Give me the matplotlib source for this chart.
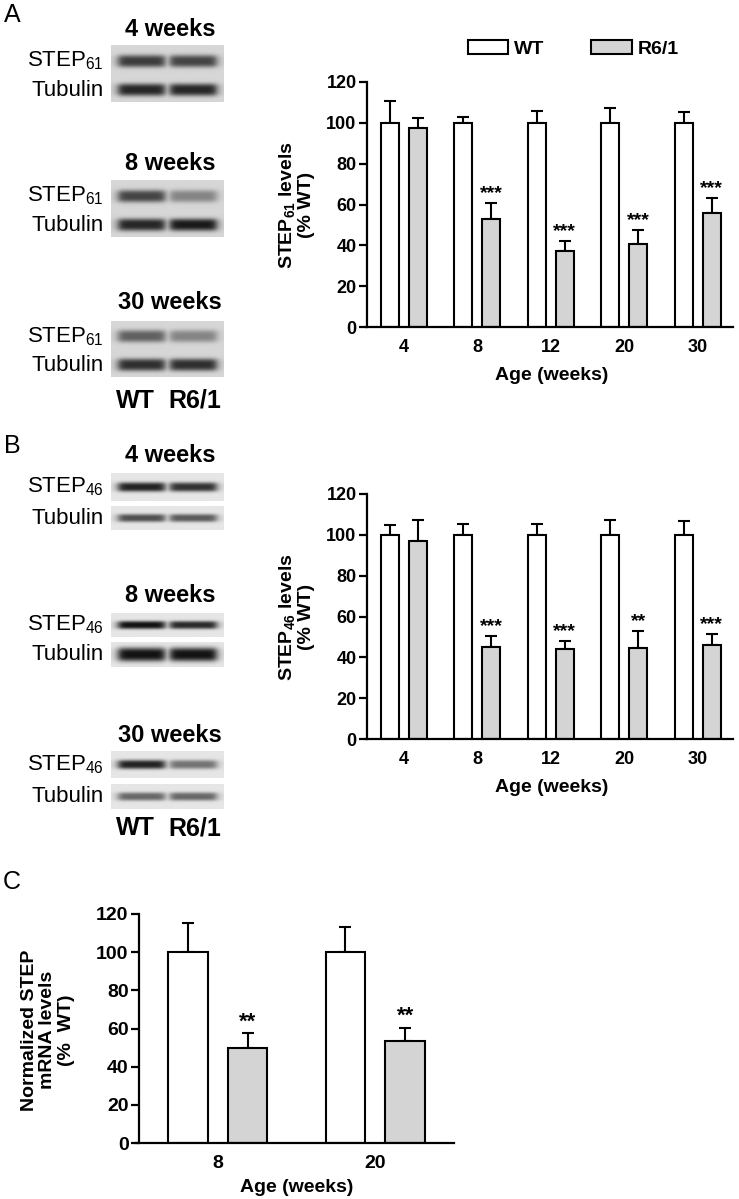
import matplotlib
matplotlib.use("Agg")
import matplotlib.pyplot as plt
import numpy as np

plt.rcParams['font.family'] = ['Liberation Sans', 'DejaVu Sans']
plt.rcParams['mathtext.fontset'] = 'custom'
plt.rcParams['mathtext.rm'] = 'Liberation Sans'
plt.rcParams['mathtext.bf'] = 'Liberation Sans:bold'
plt.rcParams['mathtext.default'] = 'regular'

# ---- bar chart data ----
ages_ab = ['4', '8', '12', '20', '30']

a_wt = [100, 100, 100, 100, 100]
a_wt_err = [10.5, 3, 6, 7.5, 5.5]
a_r6 = [97.5, 53, 37, 40.5, 56]
a_r6_err = [5, 7.5, 5, 7, 7]
a_stars = ['', '***', '***', '***', '***']

b_wt = [100, 100, 100, 100, 100]
b_wt_err = [5, 5.5, 5.5, 7.5, 7]
b_r6 = [97, 45, 44, 44.5, 46]
b_r6_err = [10.5, 5.5, 4, 8.5, 5.5]
b_stars = ['', '***', '***', '**', '***']

ages_c = ['8', '20']
c_wt = [100, 100]
c_wt_err = [15.5, 13]
c_r6 = [50, 53.5]
c_r6_err = [7.5, 7]
c_stars = ['**', '**']

# ---- blot band darkness (WT lane, R6/1 lane) ----
blot_weeks = ['4 weeks', '8 weeks', '30 weeks']
a_step_wt = [0.72, 0.68, 0.55]
a_step_r6 = [0.68, 0.38, 0.38]
a_tub_wt = [0.82, 0.82, 0.78]
a_tub_r6 = [0.82, 0.88, 0.78]
b_step_wt = [0.85, 0.92, 0.85]
b_step_r6 = [0.78, 0.82, 0.5]
b_tub_wt = [0.65, 0.92, 0.55]
b_tub_r6 = [0.6, 0.92, 0.55]

W, H = 739, 1199
fig = plt.figure(figsize=(W / 100, H / 100), dpi=100)


def px_axes(x0, y0, x1, y1):
    return fig.add_axes([x0 / W, 1 - y1 / H, (x1 - x0) / W, (y1 - y0) / H])


def ftext(x, y, s, **kw):
    fig.text(x / W, 1 - y / H, s, **kw)


def blot(y0, y1, bands, bg, sigma):
    # bands: list of (centre fraction, darkness WT, darkness R6/1)
    ax = px_axes(111, y0, 224, y1)
    ny, nx = 60, 120
    yy, xx = np.mgrid[0:1:ny * 1j, 0:1:nx * 1j]
    dark = np.zeros_like(yy)
    for yc, d_wt, d_r6 in bands:
        for xc, d in ((0.27, d_wt), (0.73, d_r6)):
            prof = np.exp(-np.abs((yy - yc) / sigma) ** 3) / (1 + ((xx - xc) / 0.21) ** 10)
            dark = np.maximum(dark, d * prof)
    img = bg * (1 - dark)
    ax.imshow(img, cmap='gray', vmin=0, vmax=1, aspect='auto', interpolation='bilinear')
    ax.axis('off')


def bar_panel(ax, ages, wt, wt_err, r6, r6_err, stars, xmax, tick_fs, star_fs):
    x = np.arange(len(ages))
    ax.errorbar(x - 0.19, wt, yerr=[np.zeros(len(x)), wt_err], fmt='none', ecolor='black',
                elinewidth=1.5, capsize=4, capthick=1.5, zorder=1)
    ax.errorbar(x + 0.19, r6, yerr=[np.zeros(len(x)), r6_err], fmt='none', ecolor='black',
                elinewidth=1.5, capsize=4, capthick=1.5, zorder=1)
    b1 = ax.bar(x - 0.19, wt, 0.25, color='white', edgecolor='black', lw=1.5, zorder=2, label='WT')
    b2 = ax.bar(x + 0.19, r6, 0.25, color='#d4d4d4', edgecolor='black', lw=1.5, zorder=2, label='R6/1')
    for xi, v, e, s in zip(x, r6, r6_err, stars):
        if s:
            ax.text(xi + 0.19, v + e + 0.5, s, ha='center', va='bottom', fontsize=star_fs,
                    fontweight='bold')
    ax.set_xlim(-0.5, xmax)
    ax.set_ylim(0, 120)
    ax.set_yticks(range(0, 121, 20))
    ax.set_xticks(x)
    ax.set_xticklabels(ages)
    for s in ('top', 'right'):
        ax.spines[s].set_visible(False)
    for s in ('left', 'bottom'):
        ax.spines[s].set_linewidth(1.6)
    ax.spines['bottom'].set_bounds(-0.52, xmax)
    ax.tick_params(axis='y', length=6, width=1.6, pad=1.5, labelsize=tick_fs)
    ax.tick_params(axis='x', length=0, pad=9, labelsize=tick_fs)
    for t in ax.get_xticklabels() + ax.get_yticklabels():
        t.set_fontweight('bold')
    ax.patch.set_alpha(0)
    return b1, b2


# ---- panel A ----
ftext(4, 15, 'A', fontsize=18, va='center')
a_strips = [(45, 102), (180, 237), (321, 377)]
a_titles_y = [29, 163, 303]
for i, wk in enumerate(blot_weeks):
    y0, y1 = a_strips[i]
    blot(y0, y1, [(0.28, a_step_wt[i], a_step_r6[i]), (0.79, a_tub_wt[i], a_tub_r6[i])],
         0.84, 0.11)
    ftext(170, a_titles_y[i], wk, fontsize=17, fontweight='bold', ha='center', va='center')
    ftext(104, y0 + 0.28 * (y1 - y0), 'STEP$_{61}$', fontsize=16, ha='right', va='center')
    ftext(104, y0 + 0.79 * (y1 - y0), 'Tubulin', fontsize=16, ha='right', va='center')
ftext(135, 401, 'WT', fontsize=18, fontweight='bold', ha='center', va='center')
ftext(195, 401, 'R6/1', fontsize=18, fontweight='bold', ha='center', va='center')

axA = px_axes(367, 82, 733, 327)
h1, h2 = bar_panel(axA, ages_ab, a_wt, a_wt_err, a_r6, a_r6_err, a_stars, 4.48, 13, 14)
fig.legend(handles=[h1, h2], labels=['WT', 'R6/1'], ncol=2, frameon=False,
           loc='center left', bbox_to_anchor=(450 / W, 1 - 49 / H),
           prop={'weight': 'bold', 'size': 14}, handlelength=2.1, handleheight=0.75,
           handletextpad=0.3, columnspacing=2.4)
ftext(296, 205, '$\\mathbf{STEP_{61}}$ levels\n(% WT)', fontsize=14, fontweight='bold',
      rotation=90, ha='center', va='center', multialignment='center', linespacing=1.05)
ftext(552, 375, 'Age (weeks)', fontsize=14, fontweight='bold', ha='center', va='center')

# ---- panel B ----
ftext(4, 446, 'B', fontsize=18, va='center')
b_step_strips = [(473, 501), (613, 637), (751, 778)]
b_tub_strips = [(506, 530), (642, 667), (784, 809)]
b_titles_y = [455, 595, 735]
for i, wk in enumerate(blot_weeks):
    s0, s1 = b_step_strips[i]
    t0, t1 = b_tub_strips[i]
    blot(s0, s1, [(0.5, b_step_wt[i], b_step_r6[i])], 0.9, 0.17)
    blot(t0, t1, [(0.5, b_tub_wt[i], b_tub_r6[i])], 0.9, 0.17 if i != 1 else 0.28)
    ftext(170, b_titles_y[i], wk, fontsize=17, fontweight='bold', ha='center', va='center')
    ftext(104, (s0 + s1) / 2, 'STEP$_{46}$', fontsize=16, ha='right', va='center')
    ftext(104, (t0 + t1) / 2, 'Tubulin', fontsize=16, ha='right', va='center')
ftext(135, 828, 'WT', fontsize=18, fontweight='bold', ha='center', va='center')
ftext(195, 828, 'R6/1', fontsize=18, fontweight='bold', ha='center', va='center')

axB = px_axes(367, 494, 733, 739)
bar_panel(axB, ages_ab, b_wt, b_wt_err, b_r6, b_r6_err, b_stars, 4.48, 13, 14)
ftext(296, 617, '$\\mathbf{STEP_{46}}$ levels\n(% WT)', fontsize=14, fontweight='bold',
      rotation=90, ha='center', va='center', multialignment='center', linespacing=1.05)
ftext(552, 787, 'Age (weeks)', fontsize=14, fontweight='bold', ha='center', va='center')

# ---- panel C ----
ftext(3, 882, 'C', fontsize=18, va='center')
axC = px_axes(139, 914, 454, 1143)
bar_panel(axC, ages_c, c_wt, c_wt_err, c_r6, c_r6_err, c_stars, 1.5, 14, 16)
ftext(48, 1030, 'Normalized STEP\nmRNA levels\n(%  WT)', fontsize=14, fontweight='bold',
      rotation=90, ha='center', va='center', multialignment='center', linespacing=1.1)
ftext(297, 1187, 'Age (weeks)', fontsize=14, fontweight='bold', ha='center', va='center')

fig.savefig('out.png', dpi=100)
